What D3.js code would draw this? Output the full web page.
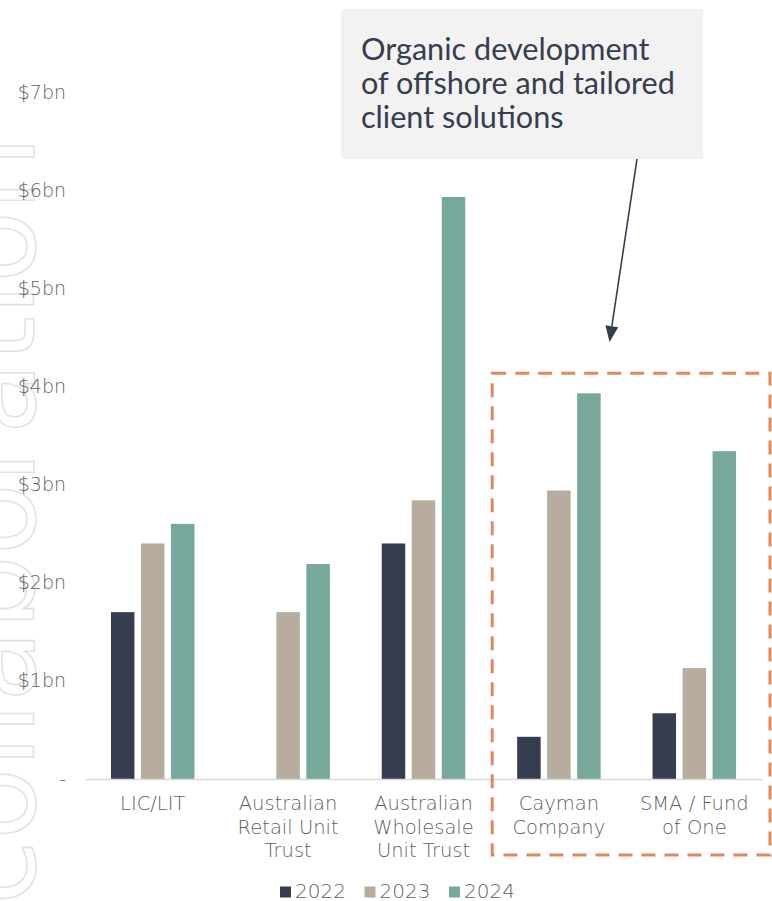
<!DOCTYPE html>
<html><head><meta charset="utf-8">
<script src="https://cdn.jsdelivr.net/npm/d3@7"></script>
<style>html,body{margin:0;padding:0;background:#fff;overflow:hidden;} svg{display:block;}</style>
</head><body>
<svg id="chart" width="772" height="901"></svg>
<script>
// ---------- data ----------
const categories = ["LIC/LIT", "Australian Retail Unit Trust", "Australian Wholesale Unit Trust", "Cayman Company", "SMA / Fund of One"];
const categoryLines = [["LIC/LIT"], ["Australian", "Retail Unit", "Trust"], ["Australian", "Wholesale", "Unit Trust"], ["Cayman", "Company"], ["SMA / Fund", "of One"]];
const series = ["2022", "2023", "2024"];
const values2022 = [1.70, 0, 2.40, 0.43, 0.67];
const values2023 = [2.40, 1.70, 2.84, 2.94, 1.13];
const values2024 = [2.60, 2.19, 5.93, 3.93, 3.34];
const seriesColors = ["#363d4f", "#b6ad9e", "#76a99b"];
const yTicks = [0, 1, 2, 3, 4, 5, 6, 7];
const yTickLabels = ["-", "$1bn", "$2bn", "$3bn", "$4bn", "$5bn", "$6bn", "$7bn"];
const highlighted = ["Cayman Company", "SMA / Fund of One"];
const annotationLines = ["Organic development", "of offshore and tailored", "client solutions"];
const watermarkText = "collaboration";

const seriesValues = [values2022, values2023, values2024];
const rows = categories.map((c, i) => ({category: c, values: series.map((s, j) => ({series: s, value: seriesValues[j][i], color: seriesColors[j]}))}));

// ---------- layout ----------
const svg = d3.select("#chart");
const plotLeft = 85, plotRight = 762;
const labelFont = "'Century Gothic','DejaVu Sans',sans-serif";
const labelColor = "#5f5f5f";

const x0 = d3.scaleBand().domain(categories).range([plotLeft, plotRight]).paddingInner(0).paddingOuter(0);
const x1 = d3.scaleBand().domain(series).range([-41.75, 41.75]).paddingInner(0.217);
const y = d3.scaleLinear().domain([0, 7]).range([779, 92]);

// watermark (decorative, outlined rotated text on the left edge)
svg.append("text")
  .attr("transform", "translate(34,905) rotate(-90)")
  .attr("font-family", "'DejaVu Sans',sans-serif")
  .attr("font-size", 118)
  .attr("fill", "none")
  .attr("stroke", "#e2e2e2")
  .attr("stroke-width", 1.6)
  .attr("aria-hidden", "true")
  .text(watermarkText);

// y axis labels
const yAxis = d3.axisLeft(y).tickValues(yTicks).tickFormat((d, i) => yTickLabels[i]).tickSize(0).tickPadding(0);
const gy = svg.append("g").attr("transform", "translate(66,0)").call(yAxis);
gy.select(".domain").remove();
gy.selectAll("text")
  .attr("font-family", labelFont)
  .attr("font-weight", 200)
  .attr("font-size", 19)
  .attr("fill", labelColor);

// bars
const groups = svg.append("g").selectAll("g").data(rows).join("g")
  .attr("transform", d => `translate(${x0(d.category) + x0.bandwidth() / 2},0)`);
groups.selectAll("rect").data(d => d.values.filter(v => v.value > 0)).join("rect")
  .attr("x", d => x1(d.series))
  .attr("width", x1.bandwidth())
  .attr("y", d => y(d.value))
  .attr("height", d => y(0) - y(d.value))
  .attr("fill", d => d.color);

// x axis baseline
const xAxis = d3.axisBottom(x0).tickSize(0).tickFormat("");
const gx = svg.append("g").attr("transform", `translate(0,${y(0)})`).call(xAxis);
gx.select(".domain").attr("stroke", "#d9d9d9").attr("stroke-width", 1.5);

// category labels
categories.forEach((c, i) => {
  const t = svg.append("text")
    .attr("x", x0(c) + x0.bandwidth() / 2)
    .attr("y", 810)
    .attr("text-anchor", "middle")
    .attr("font-family", labelFont)
    .attr("font-weight", 200)
    .attr("font-size", 19.5)
    .attr("fill", labelColor);
  categoryLines[i].forEach((line, k) => {
    t.append("tspan").attr("x", x0(c) + x0.bandwidth() / 2).attr("dy", k === 0 ? 0 : 23.5).text(line);
  });
});

// highlight dashed box around offshore categories
const hx0 = x0(highlighted[0]) + 1;
const hy0 = y(3.94) - 19;
svg.append("rect")
  .attr("x", hx0)
  .attr("y", hy0)
  .attr("width", 770 - hx0)
  .attr("height", 855 - hy0)
  .attr("fill", "none")
  .attr("stroke", "#e0895c")
  .attr("stroke-width", 3)
  .attr("stroke-dasharray", "14,9");

// annotation box
svg.append("rect").attr("x", 341).attr("y", 9).attr("width", 362).attr("height", 150).attr("fill", "#f2f2f2");
const ann = svg.append("text")
  .attr("font-family", "Lato, 'Open Sans', sans-serif")
  .attr("font-size", 28)
  .attr("fill", "#363d4f");
annotationLines.forEach((line, k) => {
  ann.append("tspan").attr("x", 361).attr("y", 60 + k * 34).text(line);
});
const longest = ann.selectAll("tspan").nodes()[1];
const len = longest.getComputedTextLength();
if (len > 0) ann.attr("font-size", 28 * 314 / len);

// arrow
const ax1 = 637, ay1 = 159, ax2 = 609.5, ay2 = 342;
const ang = Math.atan2(ay2 - ay1, ax2 - ax1);
const headLen = 16, headHalf = 6.5;
const bx = ax2 - headLen * Math.cos(ang), by = ay2 - headLen * Math.sin(ang);
svg.append("line").attr("x1", ax1).attr("y1", ay1).attr("x2", bx).attr("y2", by)
  .attr("stroke", "#363d4f").attr("stroke-width", 1.6);
svg.append("path")
  .attr("d", d3.line()([
    [ax2, ay2],
    [bx + headHalf * Math.sin(ang), by - headHalf * Math.cos(ang)],
    [bx - headHalf * Math.sin(ang), by + headHalf * Math.cos(ang)]
  ]) + "Z")
  .attr("fill", "#363d4f");

// legend
const legend = svg.append("g").selectAll("g").data(series).join("g")
  .attr("transform", (d, i) => `translate(${280 + i * 84.5},0)`);
legend.append("rect").attr("x", 0).attr("y", 886.5).attr("width", 11).attr("height", 11)
  .attr("fill", (d, i) => seriesColors[i]);
legend.append("text").attr("x", 15).attr("y", 897.5)
  .attr("font-family", labelFont)
  .attr("font-weight", 200)
  .attr("font-size", 20)
  .attr("fill", labelColor)
  .text(d => d);
</script>
</body></html>
